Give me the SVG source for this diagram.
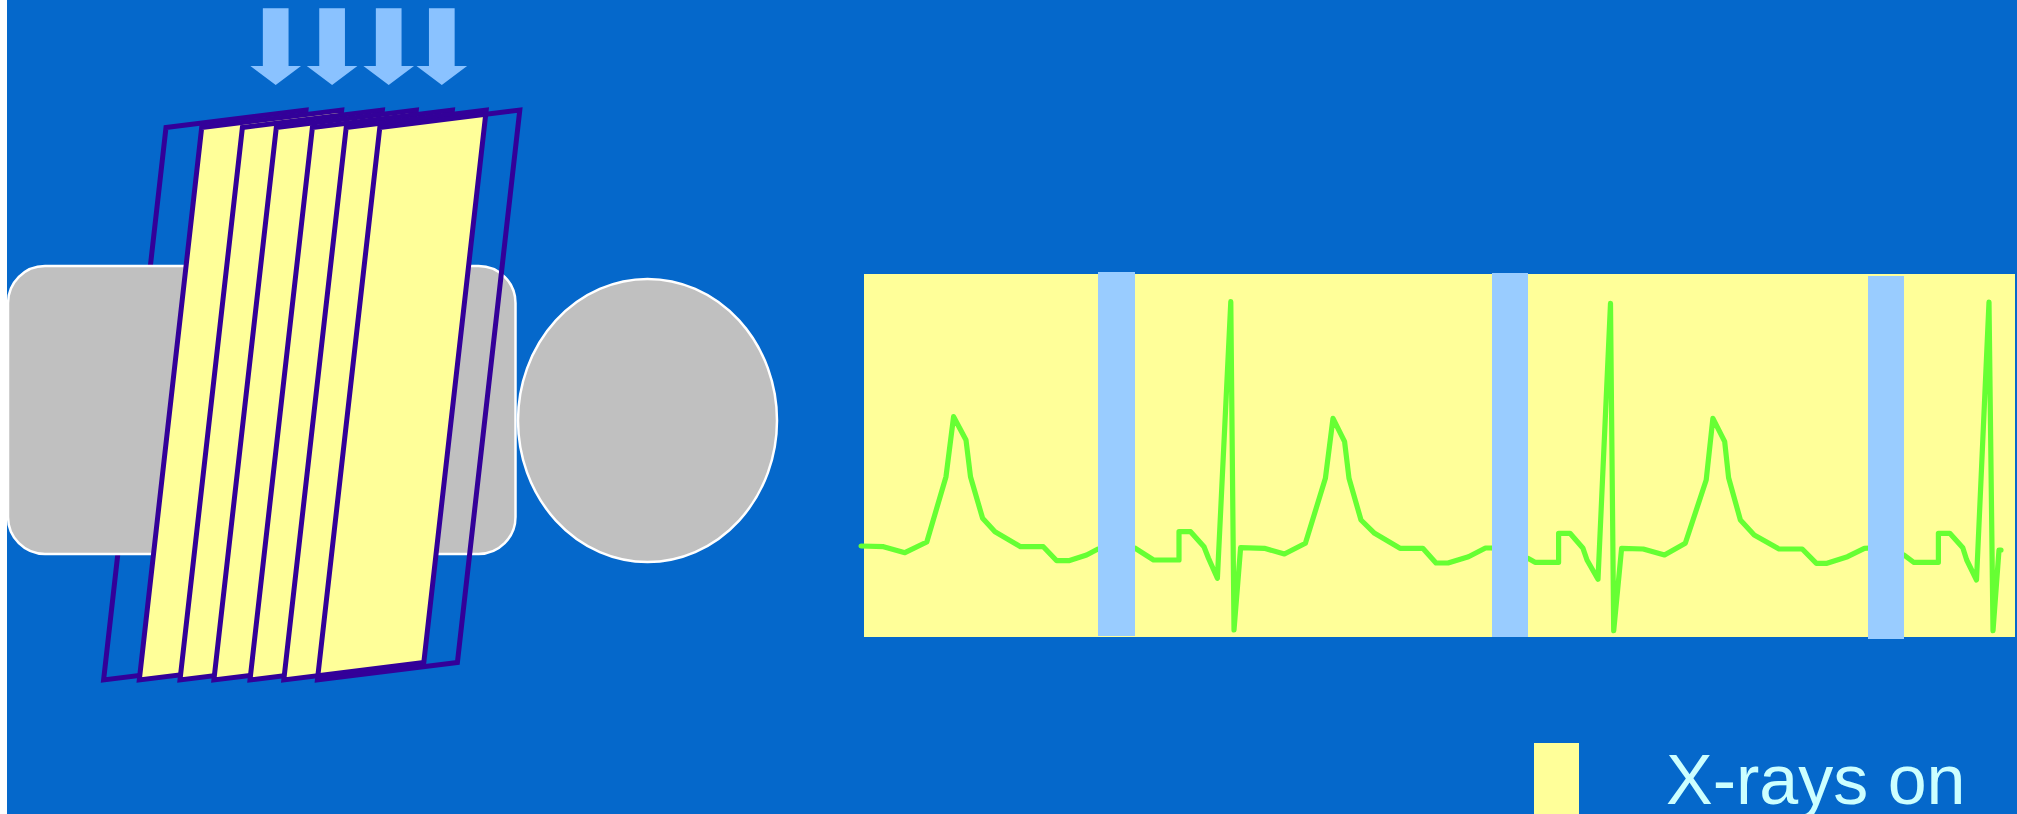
<svg xmlns="http://www.w3.org/2000/svg" xmlns:xlink="http://www.w3.org/1999/xlink" width="2017" height="814" viewBox="0 0 2017 814">
  <style>
    .bg { fill: #0568CB; }
    .ray { fill: #8AC2FF; }
    .slice-open { fill: none; stroke: #330099; stroke-width: 5; stroke-linejoin: miter; }
    .slice-lit { fill: #FFFF99; stroke: #330099; stroke-width: 5; stroke-linejoin: miter; }
    .body { fill: #C0C0C0; stroke: #FFFFFF; stroke-width: 2.5; }
    .strip { fill: #FFFF99; }
    .gate { fill: #99CCFF; }
    .ecg { fill: none; stroke: #66FF33; stroke-width: 5.2; stroke-linejoin: round; stroke-linecap: round; }
    .legend-text { font-family: "Liberation Sans", Arial, sans-serif; font-size: 70px; fill: #CCFFFF; }
  </style>
  <defs>
    <!-- one slice of the scanned volume, seen in perspective -->
    <polygon id="slice" points="166,127.5 306,110 243.6,662.5 103.6,680"/>
    <!-- downward X-ray arrow centred on x=0 -->
    <path id="ray" d="M-12.85,8.3 H12.85 V66 H25.3 L0,85 L-25.3,66 H-12.85 Z"/>
  </defs>

  <!-- page background -->
  <rect x="0" y="0" width="2017" height="814" fill="#FFFFFF"/>
  <rect class="bg" x="7" y="0" width="2010" height="814"/>

  <!-- X-ray beams -->
  <g id="rays">
    <use xlink:href="#ray" class="ray" x="275.7" y="0"/>
    <use xlink:href="#ray" class="ray" x="332.1" y="0"/>
    <use xlink:href="#ray" class="ray" x="388.7" y="0"/>
    <use xlink:href="#ray" class="ray" x="441.8" y="0"/>
  </g>

  <!-- rear slice outline, behind the body -->
  <g id="slice-back">
    <use xlink:href="#slice" class="slice-open"/>
  </g>

  <!-- patient body: trunk and head -->
  <g id="patient">
    <rect class="body" x="8" y="266" width="507.5" height="288" rx="37" ry="37"/>
    <ellipse class="body" cx="647.5" cy="420.5" rx="129.5" ry="141.5"/>
  </g>

  <!-- acquired slices -->
  <g id="slices">
    <use xlink:href="#slice" class="slice-lit" transform="translate(35.7,0)"/>
    <use xlink:href="#slice" class="slice-lit" transform="translate(76.4,0)"/>
    <use xlink:href="#slice" class="slice-lit" transform="translate(110.3,0)"/>
    <use xlink:href="#slice" class="slice-lit" transform="translate(146.4,0)"/>
    <use xlink:href="#slice" class="slice-lit" transform="translate(180.2,0)"/>
  </g>

  <!-- front slice outline -->
  <g id="slice-front">
    <use xlink:href="#slice" class="slice-open" transform="translate(213.8,0)"/>
  </g>

  <!-- ECG strip with exposure windows -->
  <g id="ecg-strip">
    <rect class="strip" x="864" y="274" width="1151" height="363"/>
    <polyline class="ecg" points="861,546 883.5,546.7 904.9,552.7 926.8,542 946,476.7 953.6,416.7 966,440 970.5,476.7 982.6,518.3 995,531.7 1020.5,546.7 1043.3,546.7 1056.7,560.7 1068.8,560.7 1086.6,555 1098,549 1134.8,548 1153.6,560 1179,560 1179,531.7 1190.6,531.7 1204,546.7 1208.5,558.3 1217.4,578.3 1230.8,301.7 1234,630 1240.6,547.7 1264.3,548.3 1284.4,554 1305.4,543.3 1325.4,478.3 1333,418.3 1344.6,441.7 1349,478.3 1361,520 1374.6,533.3 1400,548.3 1422.8,548.3 1436,563 1448,563 1468.5,556.7 1485.5,548 1492,548 1520,555 1527.9,558.3 1535,562.3 1558.6,562.3 1558.6,533.3 1570,533.3 1583,548.3 1587,560 1598,579.3 1610.5,303.3 1613.7,630.7 1621.6,548.3 1643.2,549 1664.5,555 1685.3,543.3 1706.2,480 1712.9,418.3 1724.7,441.7 1728.6,477.7 1740.4,520 1754.2,535 1779,549 1802.2,549 1816.4,563.3 1827,563.3 1847.5,556.7 1864.4,548.3 1870,548 1904,555 1913.6,562.3 1938.4,562.3 1938.4,533.3 1949.8,533.3 1962.8,547.7 1966.7,560 1976.5,580 1989,302 1993,630.7 1999,550 2001,550"/>
    <rect class="gate" x="1098" y="272" width="37" height="364"/>
    <rect class="gate" x="1492" y="273" width="36" height="364"/>
    <rect class="gate" x="1868" y="276" width="36" height="363"/>
  </g>

  <!-- legend -->
  <g id="legend">
    <rect class="strip" x="1534" y="743" width="45" height="71"/>
    <text class="legend-text" x="1666" y="804">X-rays on</text>
  </g>
</svg>
